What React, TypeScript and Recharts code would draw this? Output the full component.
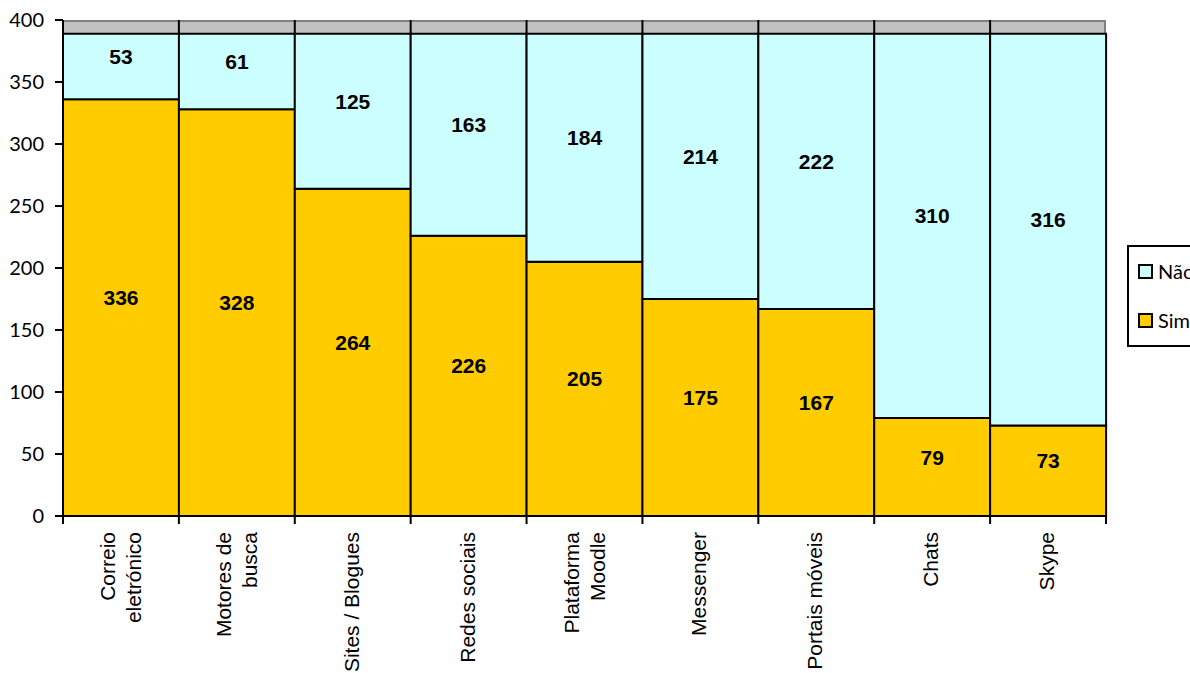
import React from 'react';
import {
  BarChart,
  Bar,
  XAxis,
  YAxis,
  CartesianGrid,
  LabelList,
} from 'recharts';

const categories = [
  'Correio\neletrónico',
  'Motores de\nbusca',
  'Sites / Blogues',
  'Redes sociais',
  'Plataforma\nMoodle',
  'Messenger',
  'Portais móveis',
  'Chats',
  'Skype',
];
const sim = [336, 328, 264, 226, 205, 175, 167, 79, 73];
const nao = [53, 61, 125, 163, 184, 214, 222, 310, 316];
const yTicks = [0, 50, 100, 150, 200, 250, 300, 350, 400];

const data = categories.map((name, i) => ({ name, sim: sim[i], nao: nao[i] }));

const SIM_COLOR = '#FFCC00';
const NAO_COLOR = '#CCFFFF';
const ARIAL = "'Liberation Sans', Arial, sans-serif";

const legendItems = [
  { label: 'Não', color: NAO_COLOR },
  { label: 'Sim', color: SIM_COLOR },
];

const CategoryTick = (props: any) => {
  const { x, y, payload, width, visibleTicksCount, index } = props;
  const bw = width / visibleTicksCount;
  const lines = String(payload.value).split('\n');
  const axisY = y - 8;
  const offsets = lines.length === 1 ? [6] : [-6, 20.5];
  return (
    <g>
      <line x1={x - bw / 2} x2={x - bw / 2} y1={axisY} y2={axisY + 8} stroke="#000" strokeWidth={2} />
      {index === visibleTicksCount - 1 && (
        <line x1={x + bw / 2} x2={x + bw / 2} y1={axisY} y2={axisY + 8} stroke="#000" strokeWidth={2} />
      )}
      <g transform={`translate(${x}, ${y + 8}) rotate(-90)`}>
        {lines.map((l, i) => (
          <text key={i} x={0} y={offsets[i]} textAnchor="end" fontFamily={ARIAL} fontSize={21} fill="#000">
            {l}
          </text>
        ))}
      </g>
    </g>
  );
};

// excel puts the value labels a bit above the segment middle
const ValueLabel = (props: any) => {
  const { x, y, width, height, value } = props;
  return (
    <text
      x={x + width / 2}
      y={y + height / 2 - 10}
      textAnchor="middle"
      dominantBaseline="central"
      fontFamily={ARIAL}
      fontSize={21}
      fontWeight="bold"
      fill="#000"
    >
      {value}
    </text>
  );
};

const LegendBox = () => (
  <div
    style={{
      position: 'absolute',
      left: 1127,
      top: 245,
      border: '2px solid #000',
      background: '#fff',
      height: 98,
      width: 120,
      fontFamily: 'Lato, sans-serif',
      fontSize: 20,
      color: '#000',
    }}
  >
    {legendItems.map((it, i) => (
      <div
        key={it.label}
        style={{ position: 'absolute', left: 9, top: 13 + i * 49, display: 'flex', alignItems: 'center', lineHeight: '22px' }}
      >
        <span
          style={{
            display: 'inline-block',
            width: 11,
            height: 11,
            background: it.color,
            border: '2px solid #000',
            marginRight: 5,
          }}
        />
        {it.label}
      </div>
    ))}
  </div>
);

export default function App() {
  return (
    <div style={{ position: 'absolute', left: 0, top: 0, width: 1190, height: 673, overflow: 'hidden', background: '#fff' }}>
      <BarChart
        width={1190}
        height={673}
        data={data}
        margin={{ top: 20, right: 84, left: 0, bottom: 0 }}
        barCategoryGap={0}
        barGap={0}
      >
        <CartesianGrid
          fill="#C0C0C0"
          stroke="#808080"
          strokeWidth={2}
          horizontalCoordinatesGenerator={({ offset }: any) => [offset.top + 1]}
          verticalCoordinatesGenerator={({ offset }: any) => [offset.left + offset.width - 1]}
        />
        <CartesianGrid
          stroke="#000"
          strokeWidth={2}
          horizontal={false}
          verticalCoordinatesGenerator={({ offset }: any) =>
            categories.slice(1).map((_, i) => offset.left + ((i + 1) * offset.width) / categories.length)
          }
        />
        <XAxis
          dataKey="name"
          interval={0}
          height={157}
          tickLine={false}
          tickSize={8}
          tickMargin={0}
          axisLine={{ stroke: '#000', strokeWidth: 2 }}
          tick={<CategoryTick />}
        />
        <YAxis
          width={63}
          domain={[0, 400]}
          ticks={yTicks}
          interval={0}
          tickSize={8}
          tickMargin={11}
          axisLine={{ stroke: '#000', strokeWidth: 2 }}
          tickLine={{ stroke: '#000', strokeWidth: 2 }}
          tick={{ fill: '#000', fontSize: 20, fontFamily: 'Lato, sans-serif' }}
        />
        <Bar dataKey="sim" name="Sim" stackId="a" fill={SIM_COLOR} stroke="#000" strokeWidth={2} isAnimationActive={false}>
          <LabelList dataKey="sim" content={<ValueLabel />} />
        </Bar>
        <Bar dataKey="nao" name="Não" stackId="a" fill={NAO_COLOR} stroke="#000" strokeWidth={2} isAnimationActive={false}>
          <LabelList dataKey="nao" content={<ValueLabel />} />
        </Bar>
      </BarChart>
      <LegendBox />
    </div>
  );
}
